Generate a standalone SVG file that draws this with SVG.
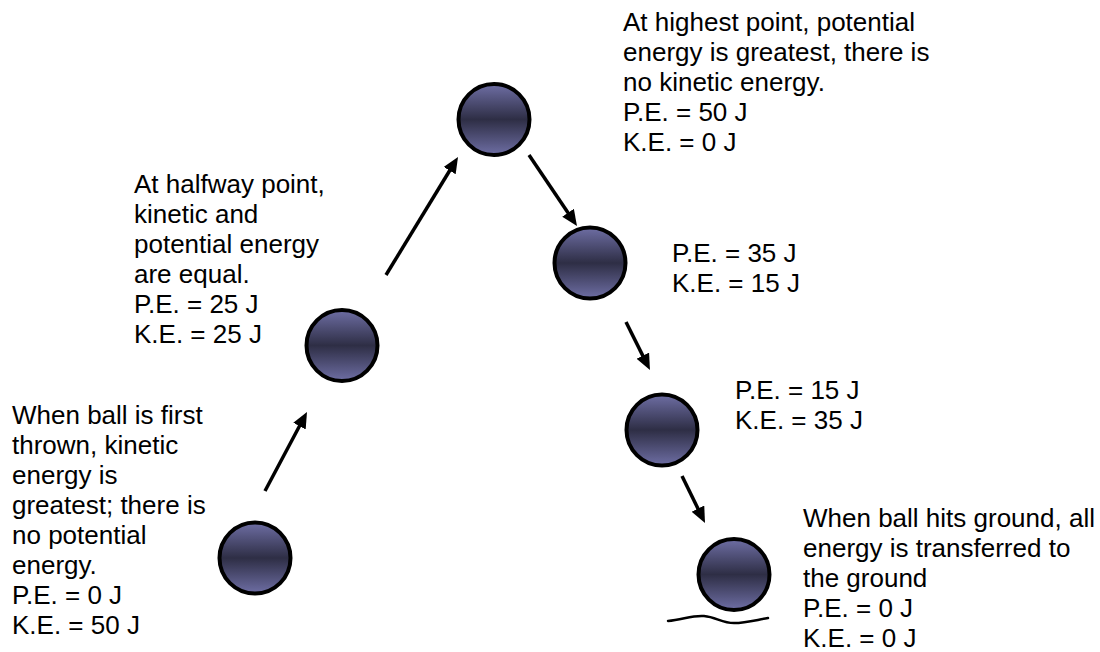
<svg xmlns="http://www.w3.org/2000/svg" width="1100" height="652" viewBox="0 0 1100 652">
<style>
text{font-family:"Liberation Sans",Arial,sans-serif;font-size:26px;fill:#000}
.ball{fill:url(#g);stroke:#000;stroke-width:4}
.arr{stroke:#000;stroke-width:3.5;fill:none;marker-end:url(#ah)}
</style>
<defs>
<linearGradient id="g" x1="0" y1="0" x2="0" y2="1">
<stop offset="0" stop-color="#6e6ea4"/>
<stop offset="0.5" stop-color="#2e2e45"/>
<stop offset="1" stop-color="#6e6ea4"/>
</linearGradient>
<marker id="ah" markerUnits="userSpaceOnUse" markerWidth="20" markerHeight="16" refX="6" refY="7" orient="auto">
<path d="M0,0 L16,7 L0,14 z" fill="#000"/>
</marker>
</defs>
<rect width="1100" height="652" fill="#fff"/>
<g id="connectors">
<line class="arr" x1="265" y1="491" x2="302.3" y2="420.8"/>
<line class="arr" x1="386" y1="275" x2="452.8" y2="165.5"/>
<line class="arr" x1="529" y1="155" x2="571.4" y2="217.7"/>
<line class="arr" x1="626" y1="322" x2="645.5" y2="361.1"/>
<line class="arr" x1="682" y1="476" x2="700.6" y2="514"/>
</g>
<g id="ball-start">
<circle class="ball" cx="255" cy="558" r="35.5"/>
<text x="12" y="424">When ball is first</text>
<text x="12" y="454">thrown, kinetic</text>
<text x="12" y="484">energy is</text>
<text x="12" y="514">greatest; there is</text>
<text x="12" y="544">no potential</text>
<text x="12" y="574">energy.</text>
<text x="12" y="604">P.E. = 0 J</text>
<text x="12" y="634">K.E. = 50 J</text>
</g>
<g id="ball-half">
<circle class="ball" cx="342" cy="345.5" r="35.5"/>
<text x="134" y="193">At halfway point,</text>
<text x="134" y="223">kinetic and</text>
<text x="134" y="253">potential energy</text>
<text x="134" y="283">are equal.</text>
<text x="134" y="313">P.E. = 25 J</text>
<text x="134" y="343">K.E. = 25 J</text>
</g>
<g id="ball-top">
<circle class="ball" cx="494" cy="119.5" r="35.5"/>
<text x="623" y="31">At highest point, potential</text>
<text x="623" y="61">energy is greatest, there is</text>
<text x="623" y="91">no kinetic energy.</text>
<text x="623" y="121">P.E. = 50 J</text>
<text x="623" y="151">K.E. = 0 J</text>
</g>
<g id="ball-35">
<circle class="ball" cx="590" cy="263" r="35.5"/>
<text x="672" y="262">P.E. = 35 J</text>
<text x="672" y="292">K.E. = 15 J</text>
</g>
<g id="ball-15">
<circle class="ball" cx="662" cy="430" r="35.5"/>
<text x="735" y="399">P.E. = 15 J</text>
<text x="735" y="429">K.E. = 35 J</text>
</g>
<g id="ball-ground">
<circle class="ball" cx="734" cy="574.5" r="35.5"/>
<path d="M668,621 C682,620 692,615 704,616 C716,617 722,623 734,623 C746,623 756,620 768,618" fill="none" stroke="#000" stroke-width="2.5" stroke-linecap="round"/>
<text x="803" y="527">When ball hits ground, all</text>
<text x="803" y="557">energy is transferred to</text>
<text x="803" y="587">the ground</text>
<text x="803" y="617">P.E. = 0 J</text>
<text x="803" y="647">K.E. = 0 J</text>
</g>
</svg>
